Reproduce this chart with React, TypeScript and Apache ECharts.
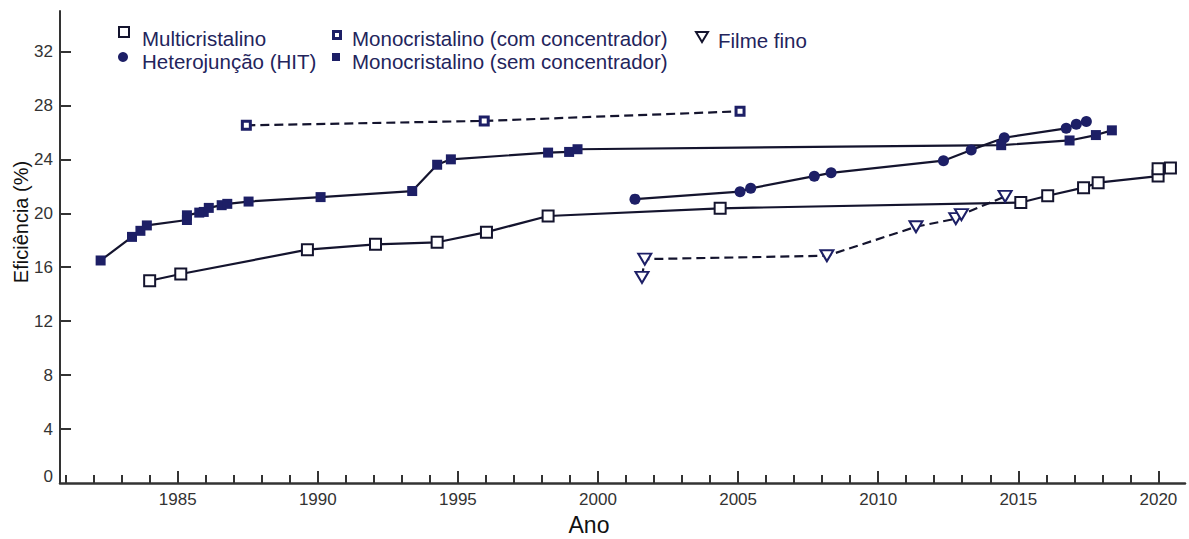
import React, { useEffect, useRef } from "react";
import * as echarts from "echarts";

// Record efficiencies (%) by year for each cell technology
const multicristalino: [number, number][] = [
  [1984.0, 15.0], [1985.11, 15.5], [1989.63, 17.3], [1992.06, 17.7], [1994.26, 17.85],
  [1996.02, 18.6], [1998.22, 19.8], [2004.36, 20.37], [2015.09, 20.8], [2016.05, 21.3],
  [2017.33, 21.9], [2017.85, 22.27], [2019.99, 22.76], [2019.99, 23.3], [2020.43, 23.36],
];
const heterojuncao: [number, number][] = [
  [2001.32, 21.05], [2005.07, 21.6], [2005.45, 21.85], [2007.72, 22.75], [2008.32, 23.0],
  [2012.33, 23.9], [2013.32, 24.7], [2014.5, 25.6], [2016.71, 26.3], [2017.07, 26.6],
  [2017.43, 26.8],
];
const monoComConcentrador: [number, number][] = [
  [1987.45, 26.52], [1995.94, 26.85], [2005.07, 27.56],
];
const monoSemConcentrador: [number, number][] = [
  [1982.25, 16.5], [1983.37, 18.25], [1983.67, 18.7], [1983.9, 19.1], [1985.33, 19.5],
  [1985.33, 19.85], [1985.77, 20.05], [1985.93, 20.1], [1986.11, 20.4], [1986.57, 20.6],
  [1986.77, 20.7], [1987.53, 20.87], [1990.1, 21.2], [1993.37, 21.65], [1994.26, 23.6],
  [1994.75, 24.0], [1998.22, 24.5], [1998.97, 24.55], [1999.27, 24.75], [2014.39, 25.05],
  [2016.83, 25.4], [2017.77, 25.8], [2018.34, 26.15],
];
const filmeFino: [number, number][] = [
  [2001.57, 15.25], [2001.67, 16.6], [2008.17, 16.85], [2011.35, 19.0], [2012.77, 19.6],
  [2012.97, 19.9], [2014.53, 21.25],
];

// Axis ticks and labels
const yearLabels = [1985, 1990, 1995, 2000, 2005, 2010, 2015, 2020];
const yearTicks = Array.from({ length: 40 }, (_, i) => 1981 + i);
const effLabels = [0, 4, 8, 12, 16, 20, 24, 28, 32];
const effTicks = [4, 8, 12, 16, 20, 24, 28, 32];

const NAVY = "#1d1f66";
const LINE = "#14142e";
const AXIS = "#333333";
const TEXT_NAVY = "#23245c";
const LEGEND_FONT = '"Liberation Sans", Arial, sans-serif';
const TICK_FONT = '"Liberation Sans Narrow", "Liberation Sans", Arial, sans-serif';

export default function App() {
  const ref = useRef<HTMLDivElement>(null);

  useEffect(() => {
    if (!ref.current) return;
    const chart = echarts.init(ref.current, undefined, { renderer: "svg" });

    const legendText = (text: string, x: number, y: number) => ({
      type: "text",
      x,
      y,
      style: {
        text,
        fill: TEXT_NAVY,
        fontSize: 20.5,
        fontFamily: LEGEND_FONT,
        verticalAlign: "middle",
        align: "left",
      },
    });

    chart.setOption({
      animation: false,
      backgroundColor: "#ffffff",
      grid: { left: 60, right: 4, top: 11, bottom: 56, containLabel: false },
      xAxis: [
        {
          type: "value",
          min: 1980.8,
          max: 2020.95,
          axisLine: { show: true, lineStyle: { color: AXIS, width: 2.5 } },
          axisTick: {
            show: true,
            inside: true,
            length: 8,
            customValues: yearTicks,
            lineStyle: { color: AXIS, width: 2 },
          },
          axisLabel: {
            show: true,
            customValues: yearLabels,
            formatter: (v: number) => String(Math.round(v)),
            color: AXIS,
            fontSize: 17,
            fontFamily: TICK_FONT,
            margin: 8,
          },
          splitLine: { show: false },
        },
        {
          type: "value",
          position: "bottom",
          min: 1980.8,
          max: 2020.95,
          axisLine: { show: false },
          axisTick: {
            show: true,
            inside: true,
            length: 12,
            customValues: yearLabels,
            lineStyle: { color: AXIS, width: 2 },
          },
          axisLabel: { show: false },
          splitLine: { show: false },
        },
      ],
      yAxis: {
        type: "value",
        min: 0,
        max: 35,
        axisLine: { show: true, lineStyle: { color: AXIS, width: 2 } },
        axisTick: {
          show: true,
          inside: true,
          length: 11,
          customValues: effTicks,
          lineStyle: { color: AXIS, width: 2 },
        },
        axisLabel: {
          show: true,
          customValues: effLabels,
          color: AXIS,
          fontSize: 17,
          fontFamily: TICK_FONT,
          margin: 7,
          formatter: (v: number) => (v === 0 ? "{z|0}" : String(v)),
          rich: {
            z: { fontSize: 17, fontFamily: TICK_FONT, color: AXIS, padding: [0, 0, 14, 0] },
          },
        },
        splitLine: { show: false },
      },
      series: [
        {
          name: "Multicristalino",
          type: "line",
          data: multicristalino,
          symbol: "rect",
          symbolSize: 11,
          itemStyle: { color: "#ffffff", borderColor: LINE, borderWidth: 2 },
          lineStyle: { color: LINE, width: 2.2 },
          z: 3,
        },
        {
          name: "Heterojunção (HIT)",
          type: "line",
          data: heterojuncao,
          symbol: "circle",
          symbolSize: 11,
          itemStyle: { color: NAVY, borderColor: NAVY, borderWidth: 0 },
          lineStyle: { color: LINE, width: 2.2 },
          z: 3,
        },
        {
          name: "Monocristalino (com concentrador)",
          type: "line",
          data: monoComConcentrador,
          symbol: "rect",
          symbolSize: 8,
          itemStyle: { color: "#ffffff", borderColor: NAVY, borderWidth: 3 },
          lineStyle: { color: LINE, width: 2.2, type: [9, 5] },
          z: 3,
        },
        {
          name: "Monocristalino (sem concentrador)",
          type: "line",
          data: monoSemConcentrador,
          symbol: "rect",
          symbolSize: 10,
          itemStyle: { color: NAVY },
          lineStyle: { color: LINE, width: 2.2 },
          z: 3,
        },
        {
          name: "Filme fino",
          type: "line",
          data: filmeFino,
          symbol: "triangle",
          symbolRotate: 180,
          symbolSize: [13, 11],
          itemStyle: { color: "#ffffff", borderColor: NAVY, borderWidth: 2 },
          lineStyle: { color: LINE, width: 2.2, type: [9, 5] },
          z: 3,
        },
      ],
      graphic: [
        // legend markers
        {
          type: "rect",
          shape: { x: 119, y: 27, width: 10, height: 10 },
          style: { fill: "#ffffff", stroke: LINE, lineWidth: 2 },
        },
        {
          type: "rect",
          shape: { x: 333.5, y: 31.5, width: 7, height: 7 },
          style: { fill: "#ffffff", stroke: NAVY, lineWidth: 3 },
        },
        {
          type: "polygon",
          shape: { points: [[696, 32], [708, 32], [702, 42]] },
          style: { fill: "#ffffff", stroke: LINE, lineWidth: 2 },
        },
        {
          type: "circle",
          shape: { cx: 123, cy: 57, r: 5 },
          style: { fill: NAVY },
        },
        {
          type: "rect",
          shape: { x: 332, y: 53, width: 8, height: 8 },
          style: { fill: NAVY },
        },
        legendText("Multicristalino", 142, 38),
        legendText("Monocristalino (com concentrador)", 352, 38),
        legendText("Filme fino", 718, 40),
        legendText("Heterojunção (HIT)", 142, 61),
        legendText("Monocristalino (sem concentrador)", 352, 61),
        // axis titles
        {
          type: "text",
          x: 21,
          y: 222,
          rotation: Math.PI / 2,
          style: {
            text: "Eficiência (%)",
            fill: "#111111",
            fontSize: 20,
            fontFamily: LEGEND_FONT,
            align: "center",
            verticalAlign: "middle",
          },
        },
        {
          type: "text",
          x: 589,
          y: 525,
          style: {
            text: "Ano",
            fill: "#111111",
            fontSize: 23,
            fontFamily: LEGEND_FONT,
            align: "center",
            verticalAlign: "middle",
          },
        },
      ],
    });

    return () => chart.dispose();
  }, []);

  return (
    <div
      ref={ref}
      style={{ position: "fixed", left: 0, top: 0, width: 1189, height: 539, background: "#fff" }}
    />
  );
}
